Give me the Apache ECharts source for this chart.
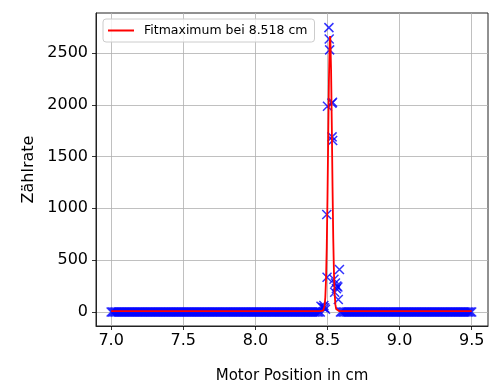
<!DOCTYPE html>
<html>
<head>
<meta charset="utf-8">
<script src="https://cdn.jsdelivr.net/npm/echarts@6/dist/echarts.min.js"></script>
<style>
  html, body { margin: 0; padding: 0; background: #fff; }
  #chart { width: 494px; height: 383px; }
</style>
</head>
<body>
<div id="chart"></div>
<script>
// Scan positions (cm) and measured count rates
const scanPos = [
  7.00, 7.01, 7.02, 7.03, 7.04, 7.05, 7.06, 7.07, 7.08, 7.09,
  7.10, 7.11, 7.12, 7.13, 7.14, 7.15, 7.16, 7.17, 7.18, 7.19,
  7.20, 7.21, 7.22, 7.23, 7.24, 7.25, 7.26, 7.27, 7.28, 7.29,
  7.30, 7.31, 7.32, 7.33, 7.34, 7.35, 7.36, 7.37, 7.38, 7.39,
  7.40, 7.41, 7.42, 7.43, 7.44, 7.45, 7.46, 7.47, 7.48, 7.49,
  7.50, 7.51, 7.52, 7.53, 7.54, 7.55, 7.56, 7.57, 7.58, 7.59,
  7.60, 7.61, 7.62, 7.63, 7.64, 7.65, 7.66, 7.67, 7.68, 7.69,
  7.70, 7.71, 7.72, 7.73, 7.74, 7.75, 7.76, 7.77, 7.78, 7.79,
  7.80, 7.81, 7.82, 7.83, 7.84, 7.85, 7.86, 7.87, 7.88, 7.89,
  7.90, 7.91, 7.92, 7.93, 7.94, 7.95, 7.96, 7.97, 7.98, 7.99,
  8.00, 8.01, 8.02, 8.03, 8.04, 8.05, 8.06, 8.07, 8.08, 8.09,
  8.10, 8.11, 8.12, 8.13, 8.14, 8.15, 8.16, 8.17, 8.18, 8.19,
  8.20, 8.21, 8.22, 8.23, 8.24, 8.25, 8.26, 8.27, 8.28, 8.29,
  8.30, 8.31, 8.32, 8.33, 8.34, 8.35, 8.36, 8.37, 8.38, 8.39,
  8.40, 8.41, 8.42, 8.43, 8.44, 8.45,
  8.455, 8.468, 8.475, 8.480, 8.486,
  8.497, 8.495, 8.500, 8.510, 8.512, 8.515,
  8.531, 8.535, 8.532, 8.536,
  8.545, 8.555, 8.565, 8.562, 8.572, 8.550, 8.575, 8.583,
  8.59, 8.60, 8.61, 8.62, 8.63, 8.64, 8.65, 8.66, 8.67, 8.68, 8.69,
  8.70, 8.71, 8.72, 8.73, 8.74, 8.75, 8.76, 8.77, 8.78, 8.79,
  8.80, 8.81, 8.82, 8.83, 8.84, 8.85, 8.86, 8.87, 8.88, 8.89,
  8.90, 8.91, 8.92, 8.93, 8.94, 8.95, 8.96, 8.97, 8.98, 8.99,
  9.00, 9.01, 9.02, 9.03, 9.04, 9.05, 9.06, 9.07, 9.08, 9.09,
  9.10, 9.11, 9.12, 9.13, 9.14, 9.15, 9.16, 9.17, 9.18, 9.19,
  9.20, 9.21, 9.22, 9.23, 9.24, 9.25, 9.26, 9.27, 9.28, 9.29,
  9.30, 9.31, 9.32, 9.33, 9.34, 9.35, 9.36, 9.37, 9.38, 9.39,
  9.40, 9.41, 9.42, 9.43, 9.44, 9.45, 9.46, 9.47, 9.48, 9.49,
  9.50
];
const scanCounts = [
  0, 0, 0, 0, 0, 0, 0, 0, 0, 0,
  0, 0, 0, 0, 0, 0, 0, 0, 0, 0,
  0, 0, 0, 0, 0, 0, 0, 0, 0, 0,
  0, 0, 0, 0, 0, 0, 0, 0, 0, 0,
  0, 0, 0, 0, 0, 0, 0, 0, 0, 0,
  0, 0, 0, 0, 0, 0, 0, 0, 0, 0,
  0, 0, 0, 0, 0, 0, 0, 0, 0, 0,
  0, 0, 0, 0, 0, 0, 0, 0, 0, 0,
  0, 0, 0, 0, 0, 0, 0, 0, 0, 0,
  0, 0, 0, 0, 0, 0, 0, 0, 0, 0,
  0, 0, 0, 0, 0, 0, 0, 0, 0, 0,
  0, 0, 0, 0, 0, 0, 0, 0, 0, 0,
  0, 0, 0, 0, 0, 0, 0, 0, 0, 0,
  0, 0, 0, 0, 0, 0, 0, 0, 0, 0,
  0, 0, 0, 0, 0, 0,
  55, 45, 62, 40, 25,
  335, 940, 1985, 2745, 2635, 2530,
  2015, 2025, 1690, 1655,
  315, 280, 250, 225, 240, 190, 120, 410,
  0, 0, 0, 0, 0, 0, 0, 0, 0, 0, 0,
  0, 0, 0, 0, 0, 0, 0, 0, 0, 0,
  0, 0, 0, 0, 0, 0, 0, 0, 0, 0,
  0, 0, 0, 0, 0, 0, 0, 0, 0, 0,
  0, 0, 0, 0, 0, 0, 0, 0, 0, 0,
  0, 0, 0, 0, 0, 0, 0, 0, 0, 0,
  0, 0, 0, 0, 0, 0, 0, 0, 0, 0,
  0, 0, 0, 0, 0, 0, 0, 0, 0, 0,
  0, 0, 0, 0, 0, 0, 0, 0, 0, 0,
  0
];

// Fitted peak curve (Gaussian fit, maximum at 8.518 cm)
const fitPos = [
  7.00, 8.45, 8.46, 8.47, 8.475, 8.48, 8.485, 8.49, 8.495, 8.50,
  8.505, 8.51, 8.515, 8.518, 8.52, 8.525, 8.53, 8.535, 8.54, 8.545,
  8.55, 8.555, 8.56, 8.565, 8.57, 8.58, 9.50
];
const fitCounts = [
  8, 8, 8, 13, 25, 58, 142, 317, 629, 1099,
  1678, 2235, 2599, 2663, 2634, 2328, 1797, 1209, 712, 367,
  168, 70, 29, 14, 10, 8, 8
];

const xTicks = [7.0, 7.5, 8.0, 8.5, 9.0, 9.5];
const yTicks = [0, 500, 1000, 1500, 2000, 2500];
const fitLabel = 'Fitmaximum bei 8.518 cm';

const scanData = scanPos.map((x, i) => [x, scanCounts[i]]);
const fitData = fitPos.map((x, i) => [x, fitCounts[i]]);

const chart = echarts.init(document.getElementById('chart'), null, { renderer: 'canvas' });

const gridLine = { show: true, lineStyle: { color: '#b0b0b0', width: 0.8 } };
const tickStyle = { show: true, inside: false, length: 4, lineStyle: { color: '#000', width: 0.8 } };

chart.setOption({
  animation: false,
  backgroundColor: '#fff',
  grid: {
    left: 96, top: 13, right: 6, bottom: 57,
    outerBoundsMode: 'none',
    containLabel: false,
    show: true, borderColor: '#222', borderWidth: 1, backgroundColor: 'transparent'
  },
  legend: {
    data: [{ name: fitLabel, icon: 'rect' }],
    left: 103, top: 19,
    orient: 'vertical',
    padding: [5, 7, 5, 5],
    itemWidth: 26, itemHeight: 2,
    backgroundColor: 'rgba(255,255,255,0.8)',
    borderColor: '#cccccc', borderWidth: 1, borderRadius: 3,
    textStyle: { fontFamily: 'DejaVu Sans', fontSize: 12.5, color: '#000', padding: [0, 0, 0, 5] }
  },
  xAxis: {
    type: 'value',
    min: 6.895, max: 9.613,
    name: 'Motor Position in cm',
    nameLocation: 'middle',
    nameGap: 43,
    nameTextStyle: { fontFamily: 'DejaVu Sans', fontSize: 15, color: '#000' },
    axisLine: { show: true, onZero: false, lineStyle: { color: '#222', width: 1 } },
    axisTick: Object.assign({ customValues: xTicks }, tickStyle),
    axisLabel: {
      customValues: xTicks,
      margin: 7,
      fontFamily: 'DejaVu Sans', fontSize: 16, color: '#000',
      formatter: v => v.toFixed(1)
    },
    splitLine: gridLine
  },
  yAxis: {
    type: 'value',
    min: -136, max: 2886,
    name: 'Zählrate',
    nameLocation: 'middle',
    nameGap: 47,
    nameTextStyle: { fontFamily: 'DejaVu Sans', fontSize: 16, color: '#000' },
    axisLine: { show: true, onZero: false, lineStyle: { color: '#222', width: 1 } },
    axisTick: Object.assign({ customValues: yTicks }, tickStyle),
    axisLabel: {
      customValues: yTicks,
      margin: 8,
      fontFamily: 'DejaVu Sans', fontSize: 16, color: '#000',
      formatter: v => String(v)
    },
    splitLine: gridLine
  },
  series: [
    {
      name: 'Messwerte',
      type: 'scatter',
      data: scanData,
      symbol: 'path://M0,0L10,10M10,0L0,10',
      symbolSize: 9,
      silent: true,
      itemStyle: { color: 'none', borderColor: '#0000ff', borderWidth: 1.5 },
      z: 2
    },
    {
      name: fitLabel,
      type: 'line',
      data: fitData,
      symbol: 'none',
      showSymbol: false,
      smooth: false,
      silent: true,
      lineStyle: { color: '#ff0000', width: 1.8 },
      itemStyle: { color: '#ff0000' },
      z: 3
    }
  ]
});
</script>
</body>
</html>
